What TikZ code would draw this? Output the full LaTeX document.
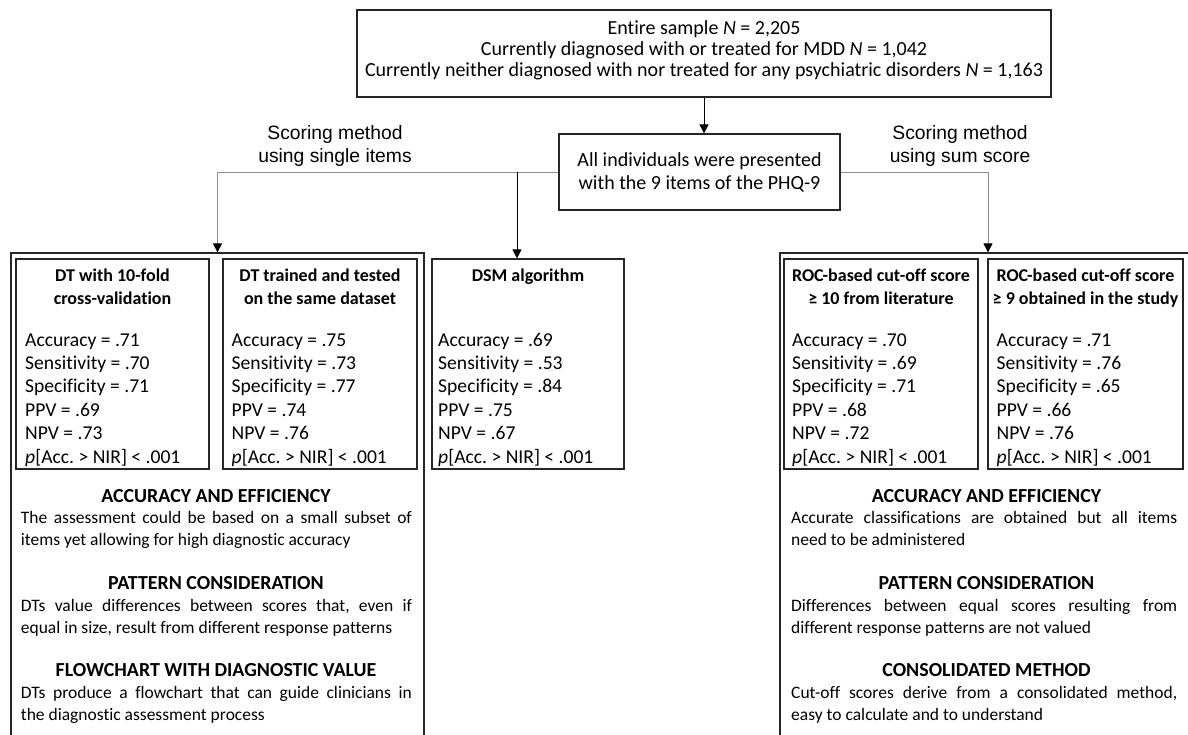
\documentclass[tikz,border=0pt]{standalone}
\usepackage{fontspec}
\setmainfont{Carlito}[Ligatures={NoCommon}, RawFeature={-liga;-clig}]
\newfontfamily\arialfont{Liberation Sans}
\usetikzlibrary{arrows.meta,calc}
\hyphenpenalty=10000
\frenchspacing
\begin{document}
\begin{tikzpicture}[x=1pt,y=-1pt,
  box/.style={draw=black!85, line width=1.2pt, inner sep=0pt},
  arr/.style={-{Triangle[width=9pt,length=9pt,color=black]}, line width=0.8pt, draw=black},
  garr/.style={-{Triangle[width=9pt,length=9pt,color=black]}, line width=0.8pt, draw=black!45},
  toptext/.style={font=\fontsize{20}{21}\selectfont, align=center, inner sep=0pt},
  lbl/.style={font=\arialfont\fontsize{19.3}{23}\selectfont, align=center, inner sep=0pt},
  ttl/.style={font=\bfseries\fontsize{18}{22}\selectfont, align=center, inner sep=0pt, anchor=base},
  met/.style={font=\fontsize{19.6}{23.4}\selectfont, align=left, inner sep=0pt, anchor=base west},
  head/.style={font=\bfseries\fontsize{19.9}{22}\selectfont, inner sep=0pt, anchor=base},
  body/.style={font=\fontsize{17.5}{22}\selectfont, align=justify, inner sep=0pt, anchor=base west}
]
\useasboundingbox (0,0) rectangle (1188,735);

% boxes
\node[box, minimum width=694pt, minimum height=87pt] (top) at (704,53.5) {};
\node[box, minimum width=281pt, minimum height=76pt] (all) at (699.5,172) {};
\node[box, minimum width=413pt, minimum height=527pt] (L) at (217.5,516.5) {};
\node[box, minimum width=416pt, minimum height=527pt] (R) at (988,516.5) {};
\node[box, minimum width=193pt, minimum height=210pt] (dt1) at (112.5,364) {};
\node[box, minimum width=194pt, minimum height=210pt] (dt2) at (320,364) {};
\node[box, minimum width=192pt, minimum height=210pt] (dsm) at (528,364) {};
\node[box, minimum width=194pt, minimum height=210pt] (roc1) at (881,364) {};
\node[box, minimum width=195pt, minimum height=210pt] (roc2) at (1085.5,364) {};

% top texts (base anchor = last line baseline)
\node[toptext, anchor=base] (toptxt) at (704,77) {Entire sample \textit{N} = 2,205\\Currently diagnosed with or treated for MDD \textit{N} = 1,042\\Currently neither diagnosed with nor treated for any psychiatric disorders \textit{N} = 1,163};
\node[toptext, font=\fontsize{20}{23}\selectfont, anchor=base] (alltxt) at (699.5,190) {All individuals were presented\\with the 9 items of the PHQ-9};
\node[lbl, anchor=base] (lblL) at (335,163) {Scoring method\\using single items};
\node[lbl, anchor=base] (lblR) at (960,163) {Scoring method\\using sum score};

% connectors
\draw[arr] (top.south) -- (top.south |- all.north);
\draw[garr] (all.west) -| (L.north);
\draw[garr] (all.east) -| (R.north);
\coordinate (j) at (517,172);
\draw[arr] (j) -- (j |- dsm.north);

% titles
\node[ttl] (t1) at (112.5,304) {DT with 10-fold\\cross-validation};
\node[ttl] (t2) at (320,304) {DT trained and tested\\on the same dataset};
\node[ttl] (t3) at (528,282) {DSM algorithm};
\node[ttl] (t4) at (881,304) {ROC-based cut-off score\\≥ 10 from literature};
\node[ttl] (t5) at (1085.5,304) {ROC-based cut-off score\\≥ 9 obtained in the study};

% metrics
\node[met] (m1) at (25,463) {Accuracy = .71\\Sensitivity = .70\\Specificity = .71\\PPV = .69\\NPV = .73\\\textit{p}[Acc. > NIR] < .001};
\node[met] (m2) at (231.5,463) {Accuracy = .75\\Sensitivity = .73\\Specificity = .77\\PPV = .74\\NPV = .76\\\textit{p}[Acc. > NIR] < .001};
\node[met] (m3) at (438,463) {Accuracy = .69\\Sensitivity = .53\\Specificity = .84\\PPV = .75\\NPV = .67\\\textit{p}[Acc. > NIR] < .001};
\node[met] (m4) at (792,463) {Accuracy = .70\\Sensitivity = .69\\Specificity = .71\\PPV = .68\\NPV = .72\\\textit{p}[Acc. > NIR] < .001};
\node[met] (m5) at (996.5,463) {Accuracy = .71\\Sensitivity = .76\\Specificity = .65\\PPV = .66\\NPV = .76\\\textit{p}[Acc. > NIR] < .001};

% left bottom sections (justified nodes: base anchor = first line baseline)
\node[head] (hl1) at (216,502) {ACCURACY AND EFFICIENCY};
\node[body, text width=391pt] (bl1) at (20.7,523.5) {The assessment could be based on a small subset of\linebreak items yet allowing for high diagnostic accuracy};
\node[head] (hl2) at (216,589) {PATTERN CONSIDERATION};
\node[body, text width=391pt] (bl2) at (20.7,611.5) {DTs value differences between scores that, even if\linebreak equal in size, result from different response patterns};
\node[head] (hl3) at (216,676.5) {FLOWCHART WITH DIAGNOSTIC VALUE};
\node[body, text width=391pt] (bl3) at (20.7,698.5) {DTs produce a flowchart that can guide clinicians in\linebreak the diagnostic assessment process};

% right bottom sections
\node[head] (hr1) at (986.5,502) {ACCURACY AND EFFICIENCY};
\node[body, text width=386pt] (br1) at (791,523.5) {Accurate classifications are obtained but all items\linebreak need to be administered};
\node[head] (hr2) at (986.5,589) {PATTERN CONSIDERATION};
\node[body, text width=386pt] (br2) at (791,611.5) {Differences between equal scores resulting from\linebreak different response patterns are not valued};
\node[head] (hr3) at (986.5,676.5) {CONSOLIDATED METHOD};
\node[body, text width=386pt] (br3) at (791,698.5) {Cut-off scores derive from a consolidated method,\linebreak easy to calculate and to understand};
\end{tikzpicture}
\end{document}
